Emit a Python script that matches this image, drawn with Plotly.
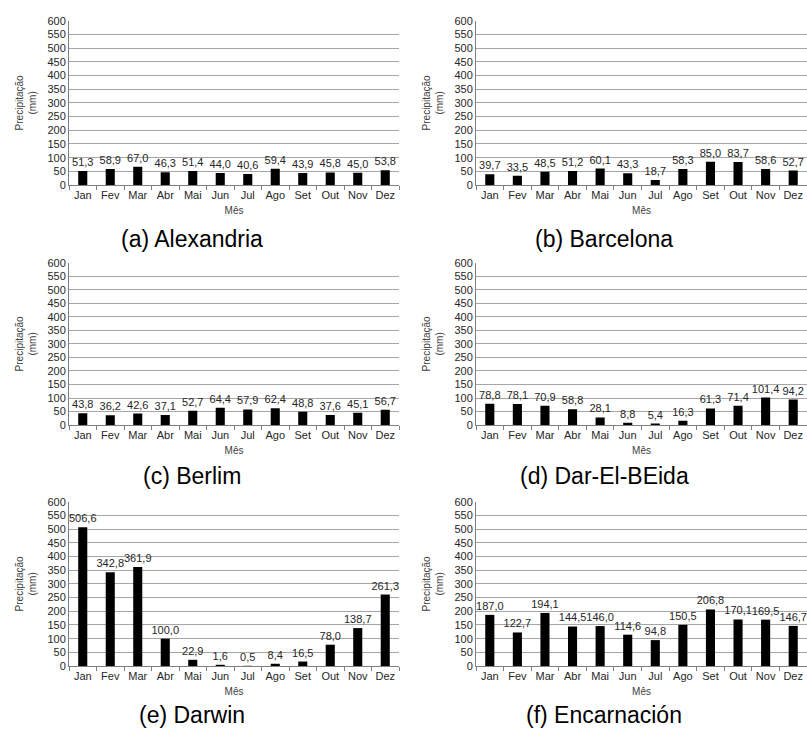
import plotly.graph_objects as go

# Monthly precipitation (mm) for six stations
meses = ["Jan", "Fev", "Mar", "Abr", "Mai", "Jun", "Jul", "Ago", "Set", "Out", "Nov", "Dez"]

alexandria = [51.3, 58.9, 67.0, 46.3, 51.4, 44.0, 40.6, 59.4, 43.9, 45.8, 45.0, 53.8]
barcelona = [39.7, 33.5, 48.5, 51.2, 60.1, 43.3, 18.7, 58.3, 85.0, 83.7, 58.6, 52.7]
berlim = [43.8, 36.2, 42.6, 37.1, 52.7, 64.4, 57.9, 62.4, 48.8, 37.6, 45.1, 56.7]
dar_el_beida = [78.8, 78.1, 70.9, 58.8, 28.1, 8.8, 5.4, 16.3, 61.3, 71.4, 101.4, 94.2]
darwin = [506.6, 342.8, 361.9, 100.0, 22.9, 1.6, 0.5, 8.4, 16.5, 78.0, 138.7, 261.3]
encarnacion = [187.0, 122.7, 194.1, 144.5, 146.0, 114.6, 94.8, 150.5, 206.8, 170.1, 169.5, 146.7]

titulos = ["(a) Alexandria", "(b) Barcelona", "(c) Berlim",
           "(d) Dar-El-BEida", "(e) Darwin", "(f) Encarnación"]
series = [alexandria, barcelona, berlim, dar_el_beida, darwin, encarnacion]

W, H = 807, 736
FONT = "Liberation Sans, Arial, sans-serif"

# panel geometry in pixels: (left, right) columns and (top, bottom) rows
cols = [(69, 399), (476, 807)]
rows = [(15, 182), (261, 426), (504, 671)]
caption_x = [192, 604]
caption_y = [237, 478, 721]


def fmt(v):
    return f"{v:.1f}".replace(".", ",")


fig = go.Figure()
layout = dict(
    width=W, height=H,
    margin=dict(l=0, r=0, t=0, b=0),
    paper_bgcolor="white", plot_bgcolor="white",
    showlegend=False,
    bargap=0.67,
    font=dict(family=FONT, size=11, color="#262626"),
    annotations=[],
)

for i, (vals, titulo) in enumerate(zip(series, titulos)):
    r, c = divmod(i, 2)
    n = i + 1
    xa = "x" if n == 1 else f"x{n}"
    ya = "y" if n == 1 else f"y{n}"
    fig.add_trace(go.Bar(
        x=meses, y=vals, xaxis=xa, yaxis=ya,
        marker=dict(color="black", line=dict(width=0)),
        text=[fmt(v) for v in vals],
        textposition="outside",
        textfont=dict(family=FONT, size=11, color="#262626"),
        constraintext="none",
        cliponaxis=True,
        hoverinfo="skip",
    ))
    x0, x1 = cols[c]
    y0, y1 = rows[r]
    layout[f"xaxis{'' if n == 1 else n}"] = dict(
        domain=[x0 / W, min(x1 / W, 1.0)],
        anchor=ya,
        type="category",
        showline=True, linecolor="#7f7f7f", linewidth=1,
        ticks="outside", tickson="boundaries", ticklen=4, tickcolor="#7f7f7f",
        tickangle=0,
        showgrid=False,
        tickfont=dict(family=FONT, size=11, color="#262626"),
        title=dict(text="Mês", standoff=6,
                   font=dict(family=FONT, size=10, color="#404040")),
    )
    layout[f"yaxis{'' if n == 1 else n}"] = dict(
        domain=[1 - y1 / H, 1 - y0 / H],
        anchor=xa,
        range=[0, 600], dtick=50, tick0=0,
        showline=True, linecolor="#7f7f7f", linewidth=1,
        ticks="",
        showgrid=True, gridcolor="#a6a6a6", gridwidth=1,
        zeroline=False,
        tickfont=dict(family=FONT, size=11, color="#262626"),
        title=dict(text="Precipitação<br>(mm)", standoff=8,
                   font=dict(family=FONT, size=10, color="#404040")),
    )
    layout["annotations"].append(dict(
        text=titulo, xref="paper", yref="paper",
        x=caption_x[c] / W, y=1 - caption_y[r] / H,
        xanchor="center", yanchor="middle", showarrow=False,
        font=dict(family=FONT, size=23, color="black"),
    ))

fig.update_layout(**layout)
fig.write_html("out.html")
